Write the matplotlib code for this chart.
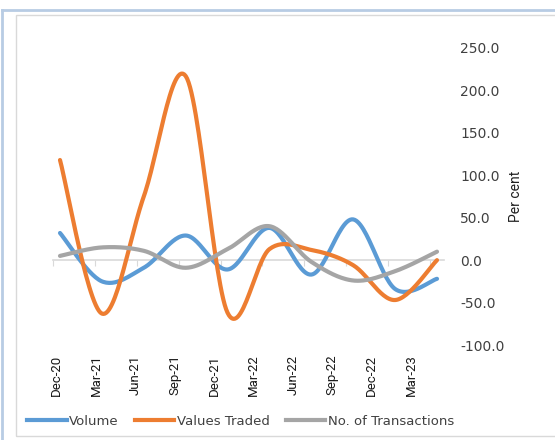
import matplotlib.pyplot as plt
import numpy as np
from matplotlib.lines import Line2D
from matplotlib.patches import Rectangle

# quarterly growth, per cent
quarters = ['Dec-20', 'Mar-21', 'Jun-21', 'Sep-21', 'Dec-21',
            'Mar-22', 'Jun-22', 'Sep-22', 'Dec-22', 'Mar-23']
volume = [32, -25, -9, 29, -11, 38, -17, 48, -34, -22]
values_traded = [118, -63, 75, 217, -62, 13, 12, -6, -47, 0]
transactions = [5, 15, 11, -9, 13, 40, -2, -24, -13, 10]

BLUE = '#5b9bd5'
ORANGE = '#ed7d31'
GREY = '#a5a5a5'
TEXT = '#404040'
NARROW = 'Roboto'


def smooth(y, n=30):
    """Excel style smoothed line (Catmull-Rom as cubic Bezier)"""
    y = np.asarray(y, float)
    x = np.arange(len(y), dtype=float)
    py = np.concatenate([[y[0]], y, [y[-1]]])
    px = np.concatenate([[x[0]], x, [x[-1]]])
    t = np.linspace(0, 1, n)
    xs, ys = [], []
    for i in range(len(y) - 1):
        for arr, out in ((px, xs), (py, ys)):
            p0, p1, p2, p3 = arr[i:i + 4]
            c1 = p1 + (p2 - p0) / 6
            c2 = p2 - (p3 - p1) / 6
            out.append((1 - t) ** 3 * p1 + 3 * (1 - t) ** 2 * t * c1
                       + 3 * (1 - t) * t ** 2 * c2 + t ** 3 * p2)
    return np.concatenate(xs), np.concatenate(ys)


fig = plt.figure(figsize=(5.55, 4.4), dpi=100)

# page frame bits around the chart
fig.add_artist(Line2D([2 / 555, 2 / 555], [0, 1 - 10.5 / 440],
                      transform=fig.transFigure, color='#b8cce4', lw=2))
fig.add_artist(Line2D([2 / 555, 1], [1 - 10.5 / 440, 1 - 10.5 / 440],
                      transform=fig.transFigure, color='#b8cce4', lw=2))
fig.add_artist(Rectangle((15.5 / 555, 1 - 436 / 440), 0.99, (436 - 15) / 440,
                         transform=fig.transFigure, fill=False,
                         edgecolor='#d9d9d9', lw=1))

ax = fig.add_axes([53 / 555, 95 / 440, 391 / 555, 297 / 440])

for series, color in ((volume, BLUE), (values_traded, ORANGE), (transactions, GREY)):
    xs, ys = smooth(series)
    ax.plot(xs, ys, color=color, lw=3, solid_capstyle='round', zorder=3)

ax.set_xlim(-0.167, 9.167)
ax.set_ylim(-100, 250)

# y axis on the right
ax.set_yticks(np.arange(-100, 251, 50))
ax.set_yticklabels([f'{v:.1f}' for v in np.arange(-100, 251, 50)])
ax.yaxis.tick_right()
ax.tick_params(axis='y', length=0, pad=11.5, labelsize=10, labelcolor=TEXT)
ax.set_ylabel('Per cent', fontsize=10, family=NARROW, color='#202020')
ax.yaxis.set_label_coords(1.202, 0.5)

# category axis crosses at zero, tick marks between categories
for side in ('left', 'right', 'top'):
    ax.spines[side].set_visible(False)
ax.spines['bottom'].set_position(('data', 0))
ax.spines['bottom'].set_color('#d9d9d9')
ax.spines['bottom'].set_linewidth(1.2)
ax.set_xticks(np.arange(len(quarters)) - 0.167)
ax.tick_params(axis='x', length=4, color='#d9d9d9', labelbottom=False)

# labels sit low, below the plot area (slightly compressed as in the source)
sec = ax.secondary_xaxis('bottom')
sec.set_xticks(np.arange(len(quarters)) * 0.94 - 0.08, quarters)
sec.tick_params(length=0, pad=7, labelsize=9.5, labelcolor='#1a1a1a')
for lab in sec.get_xticklabels():
    lab.set_rotation(90)
    lab.set_family(NARROW)
sec.spines['bottom'].set_visible(False)

handles = [Line2D([], [], color=BLUE, lw=3),
           Line2D([], [], color=ORANGE, lw=3),
           Line2D([], [], color=GREY, lw=3)]
fig.legend(handles, ['Volume', 'Values Traded', 'No. of Transactions'],
           loc='center left', bbox_to_anchor=(27 / 555, 1 - 421 / 440),
           ncol=3, frameon=False, handlelength=3.0, handletextpad=0.2,
           columnspacing=1.2, borderpad=0, borderaxespad=0, fontsize=9.5,
           labelcolor=TEXT)

fig.savefig('out.png', dpi=100)
